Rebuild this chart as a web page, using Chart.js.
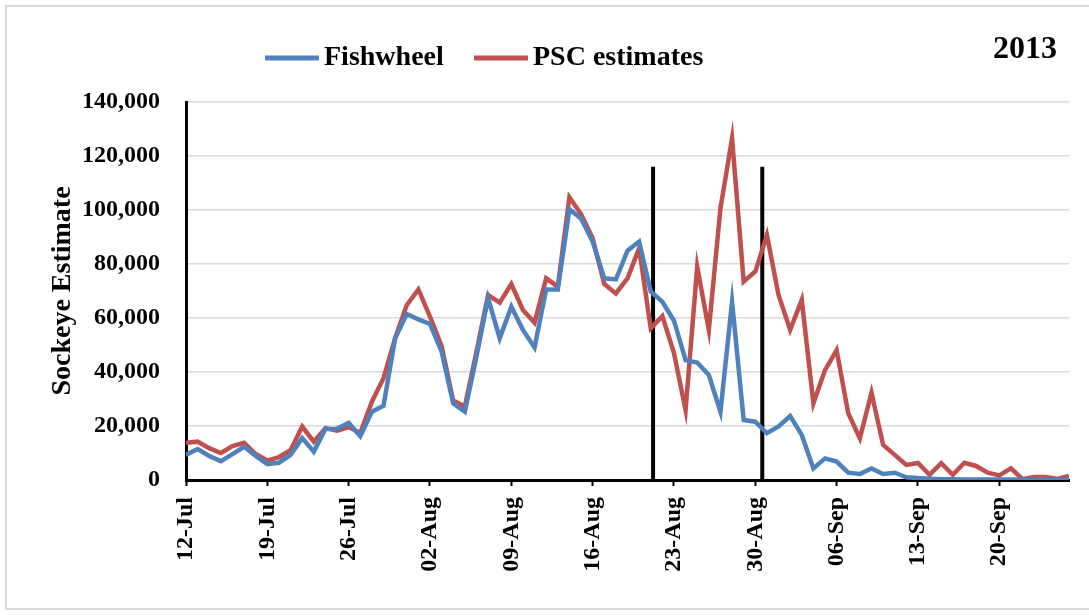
<!DOCTYPE html>
<html>
<head>
<meta charset="utf-8">
<script src="https://cdn.jsdelivr.net/npm/chart.js@4/dist/chart.umd.min.js"></script>
<style>
  body { margin: 0; background: #fff; }
  #wrap { position: relative; width: 1089px; height: 615px; overflow: hidden; }
  #frame { position: absolute; left: 5px; top: 5px; width: 1100px; height: 605px; border: 2px solid #d9d9d9; box-sizing: border-box; }
  canvas { position: absolute; left: 0; top: 0; }
</style>
</head>
<body>
<div id="wrap">
  <div id="frame"></div>
  <canvas id="chart" width="1089" height="615"></canvas>
</div>
<script>
// days since 12-Jul-2013
const tickLabels = ["12-Jul", "19-Jul", "26-Jul", "02-Aug", "09-Aug", "16-Aug",
  "23-Aug", "30-Aug", "06-Sep", "13-Sep", "20-Sep"];

const fishwheel = [
  9300, 11500, 8900, 7000, 9600, 12300, 8900, 5900, 6400, 9300,
  15500, 10500, 18900, 19000, 21200, 16200, 25300, 27500, 52500, 61500,
  59500, 57800, 47500, 28400, 25300, 45700, 67300, 52500, 64200, 55600,
  49100, 70600, 70600, 100200, 96900, 88300, 74700, 74300, 84900, 88300,
  69800, 66000, 59000, 44400, 43500, 38900, 25300, 66000, 22200, 21600,
  17300, 19800, 23700, 16700, 4300, 8000, 6800, 2700, 2200, 4300,
  2200, 2700, 1000, 700, 500, 300, 300, 200, 200, 200,
  200, 200, 100, 100, 100, 100, 100
];

const pscEstimates = [
  13800, 14200, 11800, 10000, 12600, 13800, 9600, 7200, 8500, 11000,
  19800, 14200, 19200, 18300, 19600, 17400, 29000, 37700, 52500, 64800,
  70600, 60500, 49600, 29400, 27200, 47500, 68500, 65700, 72600, 63000,
  58300, 74700, 71600, 104700, 98500, 89500, 72600, 69100, 74700, 85800,
  56200, 60700, 47000, 25900, 79000, 55600, 100600, 126500, 73500, 77200,
  90700, 68500, 55600, 66700, 28400, 40700, 48100, 24700, 15400, 32300,
  13000, 9300, 5600, 6300, 1900, 6200, 1900, 6400, 5200, 2700,
  1700, 4300, 300, 1100, 1100, 400, 1500
];

// the two black marker lines (day position, height)
const markerDays = [40.2, 49.6];
const markerTop = 116000;

const BLUE = "#4f81bd";
const RED = "#c0504d";
const FONT = "'Liberation Serif', 'Times New Roman', serif";

function toPoints(values) {
  return values.map((v, i) => ({ x: i, y: v }));
}

const markerSets = markerDays.map((d) => ({
  label: "",
  data: [{ x: d, y: 0 }, { x: d, y: markerTop }],
  borderColor: "#000",
  borderWidth: 4,
  pointRadius: 0,
  borderCapStyle: "butt"
}));

const headerPlugin = {
  id: "header",
  afterDraw(chart) {
    const ctx = chart.ctx;
    ctx.save();
    ctx.textBaseline = "middle";
    ctx.textAlign = "left";
    ctx.fillStyle = "#000";
    ctx.font = `bold 28px ${FONT}`;
    const items = [
      { color: BLUE, text: "Fishwheel", x: 265 },
      { color: RED, text: "PSC estimates", x: 474 }
    ];
    items.forEach((it) => {
      ctx.strokeStyle = it.color;
      ctx.lineWidth = 5;
      ctx.beginPath();
      ctx.moveTo(it.x, 58);
      ctx.lineTo(it.x + 54, 58);
      ctx.stroke();
      ctx.fillText(it.text, it.x + 59, 58);
    });
    ctx.font = `bold 32px ${FONT}`;
    ctx.fillText("2013", 993, 50);
    ctx.restore();
  }
};

new Chart(document.getElementById("chart"), {
  type: "line",
  data: {
    datasets: [
      {
        label: "Fishwheel",
        data: toPoints(fishwheel),
        borderColor: BLUE,
        borderWidth: 4.5,
        pointRadius: 0,
        tension: 0
      },
      {
        label: "PSC estimates",
        data: toPoints(pscEstimates),
        borderColor: RED,
        borderWidth: 4.5,
        pointRadius: 0,
        tension: 0
      },
      ...markerSets
    ]
  },
  options: {
    responsive: false,
    animation: false,
    devicePixelRatio: 1,
    layout: { padding: { left: 46, right: 20, top: 102, bottom: 0 } },
    plugins: {
      legend: { display: false },
      tooltip: { enabled: false }
    },
    scales: {
      x: {
        type: "linear",
        min: 0,
        max: 76,
        afterBuildTicks(axis) {
          axis.ticks = tickLabels.map((_, k) => ({ value: k * 7 }));
        },
        afterFit(axis) {
          axis.height = 135;
        },
        ticks: {
          callback: (value) => tickLabels[Math.round(value / 7)],
          minRotation: 90,
          maxRotation: 90,
          padding: 11,
          color: "#000",
          font: { family: FONT, size: 24, weight: "bold" }
        },
        grid: {
          drawOnChartArea: false,
          drawTicks: true,
          tickLength: 6,
          tickColor: "#000",
          tickWidth: 2
        },
        border: { display: true, color: "#000", width: 3 }
      },
      y: {
        min: 0,
        max: 140000,
        afterFit(axis) {
          axis.width = 186 - 46;
        },
        ticks: {
          stepSize: 20000,
          padding: 26,
          color: "#000",
          font: { family: FONT, size: 24, weight: "bold" },
          callback: (value) => value.toLocaleString("en-US")
        },
        grid: {
          color: "#d9d9d9",
          lineWidth: 1.5,
          drawTicks: false
        },
        border: { display: true, color: "#000", width: 3 },
        title: {
          display: true,
          text: "Sockeye Estimate",
          color: "#000",
          padding: { top: 0, bottom: 0 },
          font: { family: FONT, size: 28, weight: "bold" }
        }
      }
    }
  },
  plugins: [headerPlugin]
});
</script>
</body>
</html>
